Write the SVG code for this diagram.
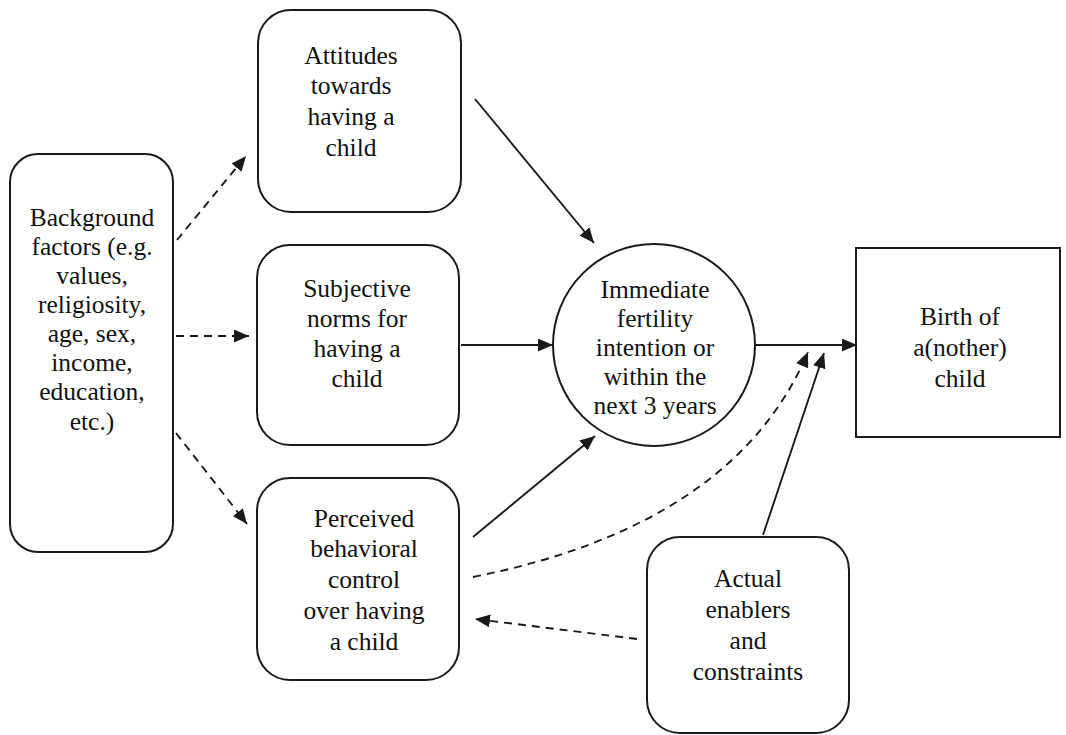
<svg xmlns="http://www.w3.org/2000/svg" width="1066" height="735" viewBox="0 0 1066 735">
<style>
.box{fill:#fff;stroke:#1a1a1a;stroke-width:2}
.t{font-family:'Liberation Serif','Times New Roman',Times,serif;font-size:25.5px;fill:#111;text-anchor:middle}
.c{fill:none;stroke:#1a1a1a;stroke-width:1.9}
.d{stroke-dasharray:8 6}
</style>
<defs>
<marker id="ah" viewBox="0 0 15 13" refX="15" refY="6.5" markerWidth="15" markerHeight="13" markerUnits="userSpaceOnUse" orient="auto">
<path d="M0,0 L15,6.5 L0,13 z" fill="#1a1a1a"/>
</marker>
</defs>
<rect width="1066" height="735" fill="#fff"/>
<g id="background">
<rect class="box" x="10" y="154" width="163" height="398" rx="28"/>
<text class="t" x="92" y="226">Background</text>
<text class="t" x="92" y="255">factors (e.g.</text>
<text class="t" x="92" y="284">values,</text>
<text class="t" x="92" y="313">religiosity,</text>
<text class="t" x="92" y="342">age, sex,</text>
<text class="t" x="92" y="371">income,</text>
<text class="t" x="92" y="400">education,</text>
<text class="t" x="92" y="430">etc.)</text>
</g>
<g id="attitudes">
<rect class="box" x="258" y="10" width="203" height="202" rx="33"/>
<text class="t" x="351" y="64">Attitudes</text>
<text class="t" x="351" y="94">towards</text>
<text class="t" x="351" y="125">having a</text>
<text class="t" x="351" y="156">child</text>
</g>
<g id="subjective">
<rect class="box" x="257" y="245" width="202" height="200" rx="33"/>
<text class="t" x="357" y="297">Subjective</text>
<text class="t" x="357" y="327">norms for</text>
<text class="t" x="357" y="357">having a</text>
<text class="t" x="357" y="387">child</text>
</g>
<g id="perceived">
<rect class="box" x="257" y="478" width="202" height="202" rx="33"/>
<text class="t" x="364" y="527">Perceived</text>
<text class="t" x="364" y="557">behavioral</text>
<text class="t" x="364" y="588">control</text>
<text class="t" x="364" y="619">over having</text>
<text class="t" x="364" y="650">a child</text>
</g>
<g id="intention">
<circle class="box" cx="654" cy="345" r="101"/>
<text class="t" x="655" y="298">Immediate</text>
<text class="t" x="655" y="327">fertility</text>
<text class="t" x="655" y="356">intention or</text>
<text class="t" x="655" y="385">within the</text>
<text class="t" x="655" y="414">next 3 years</text>
</g>
<g id="birth">
<rect class="box" x="856" y="248" width="204" height="189"/>
<text class="t" x="960" y="325">Birth of</text>
<text class="t" x="960" y="356">a(nother)</text>
<text class="t" x="960" y="387">child</text>
</g>
<g id="actual">
<rect class="box" x="647" y="537" width="202" height="196" rx="33"/>
<text class="t" x="748" y="587">Actual</text>
<text class="t" x="748" y="618">enablers</text>
<text class="t" x="748" y="649">and</text>
<text class="t" x="748" y="680">constraints</text>
</g>
<g id="connectors">
<line class="c d" x1="177" y1="240" x2="246" y2="156" marker-end="url(#ah)"/>
<line class="c d" x1="176" y1="336" x2="249" y2="336" marker-end="url(#ah)"/>
<line class="c d" x1="176" y1="433" x2="247" y2="524" marker-end="url(#ah)"/>
<line class="c" x1="475" y1="99" x2="594" y2="243" marker-end="url(#ah)"/>
<line class="c" x1="461" y1="345" x2="553" y2="345" marker-end="url(#ah)"/>
<line class="c" x1="473" y1="537" x2="595" y2="436" marker-end="url(#ah)"/>
<line class="c" x1="756" y1="345" x2="857" y2="345" marker-end="url(#ah)"/>
<path class="c d" d="M473,577 Q735,525 808,352" marker-end="url(#ah)"/>
<line class="c" x1="763" y1="535" x2="824" y2="353" marker-end="url(#ah)"/>
<line class="c d" x1="637" y1="639" x2="475" y2="619" marker-end="url(#ah)"/>
</g>
</svg>
